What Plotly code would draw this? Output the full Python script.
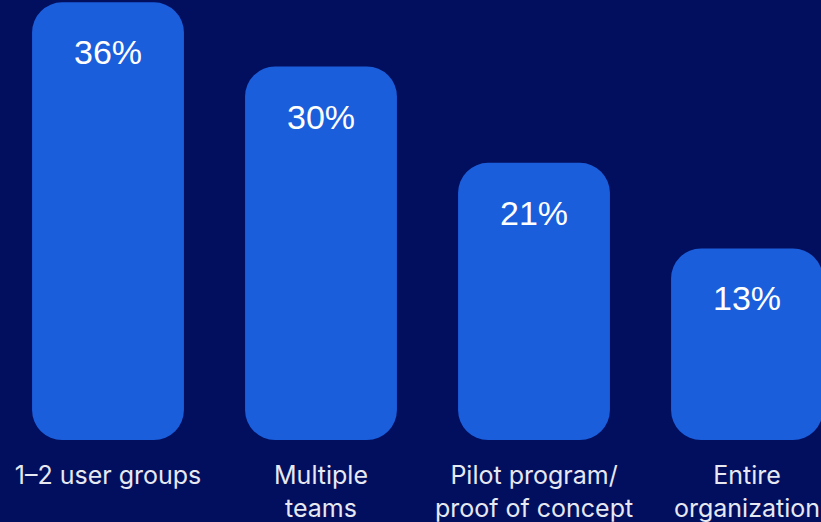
import plotly.graph_objects as go

# Deployment scope survey results
categories = ["1–2 user groups", "Multiple<br>teams", "Pilot program/<br>proof of concept", "Entire<br>organization"]
shares = [36, 30, 21, 13]
value_labels = ["36%", "30%", "21%", "13%"]

BG = "#020F5E"
BAR = "#1A5EDC"
FLOOR = -4.9          # value at which the bars sit on the baseline
PX_PER_UNIT = 10.7
PLOT_H = 440
RADIUS = 30
BAR_W = 0.713

xs = list(range(len(categories)))

fig = go.Figure()
fig.add_trace(go.Bar(
    x=xs, y=[v - FLOOR for v in shares], base=[FLOOR] * len(xs),
    width=BAR_W, marker=dict(color=BAR, cornerradius=RADIUS, line=dict(width=0)),
    hoverinfo="skip", showlegend=False,
))

for x, v, lab in zip(xs, shares, value_labels):
    fig.add_annotation(
        x=x, y=v, text=lab, showarrow=False, yshift=-50, yanchor="middle",
        font=dict(family="Liberation Sans, Arial, sans-serif", size=34, color="#FFFFFF"),
    )

fig.update_layout(
    width=821, height=522,
    margin=dict(l=0, r=0, t=0, b=82, autoexpand=False),
    paper_bgcolor=BG, plot_bgcolor=BG,
    barmode="overlay",
    xaxis=dict(
        range=[-108 / 213, (821 - 108) / 213],
        tickmode="array", tickvals=xs, ticktext=categories,
        showgrid=False, zeroline=False, showline=False, ticks="",
        automargin=False, ticklabelstandoff=18,
        tickfont=dict(family="Inter, sans-serif", size=25, color="#E6E8F2"),
    ),
    yaxis=dict(
        range=[FLOOR, FLOOR + PLOT_H / PX_PER_UNIT],
        visible=False, showgrid=False, zeroline=False, automargin=False,
    ),
)

fig.write_html("out.html")
